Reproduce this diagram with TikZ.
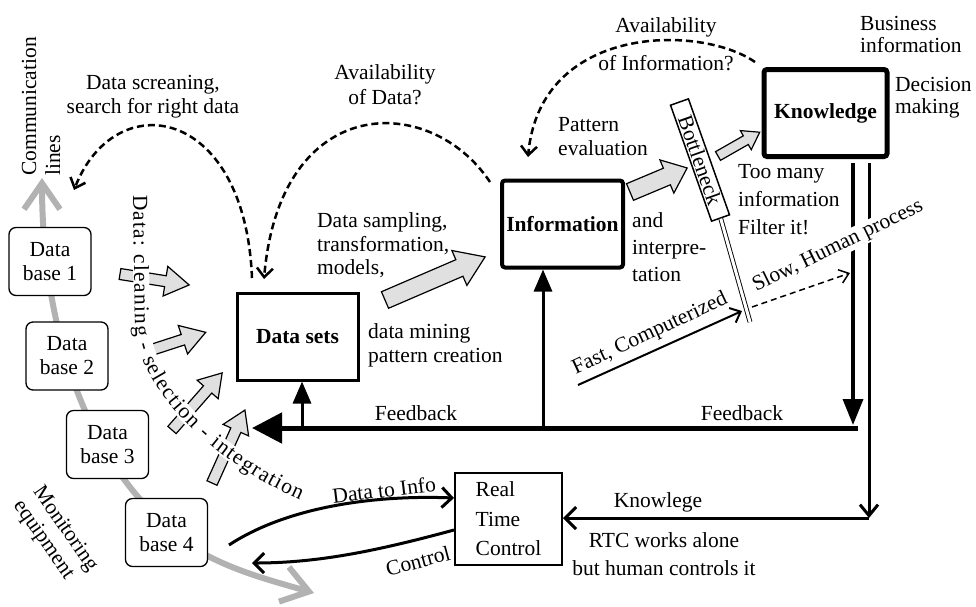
\documentclass[tikz,border=0pt]{standalone}
\usepackage{fontspec}
\setmainfont{Liberation Serif}
\usetikzlibrary{arrows.meta,decorations.text,calc}

\newcommand\fs{\fontsize{21.5}{24}\selectfont}
\newcommand\fsl[1]{\fontsize{21.5}{#1}\selectfont}
% grey block arrow: tail point, angle, length, shaft half width, head half width, head length
\newcommand\blkarrow[6]{%
  \draw[blk, shift={#1}, rotate=#2] (0,-#4) -- ({#3-#6},-#4) -- ({#3-#6},-#5) -- (#3,0)
    -- ({#3-#6},#5) -- ({#3-#6},#4) -- (0,#4) -- cycle;}

\begin{document}
\begin{tikzpicture}[x=1pt,y=-1pt,
  lbl/.style={font=\fs, inner sep=0pt, align=#1},
  lbl/.default=center,
  dbbox/.style={draw, rounded corners=7pt, line width=1.3pt, fill=white,
    minimum width=82pt, minimum height=68pt, align=center, font=\fsl{24}, inner sep=0pt},
  stage/.style={draw, line width=#1, fill=white, minimum width=121pt,
    minimum height=87pt, font=\fs\bfseries, inner sep=0pt},
  blk/.style={draw, line width=1.2pt, fill=black!12, line join=miter},
  comm/.style={draw=black!30, line width=6pt,
    {Straight Barb[length=26pt,width=36pt]}-{Straight Barb[length=26pt,width=36pt]}},
  dashedarrow/.style={line width=2.5pt, dash pattern=on 7pt off 4pt,
    -{Straight Barb[length=9pt,width=16pt]}},
]
\useasboundingbox (0,0) rectangle (976,606);

% communication line running through the data bases
\coordinate (commTop) at (42,178);
\coordinate (commEnd) at (314,593);
\draw[comm] (commTop) .. controls (42,300) and (72,430) .. (150,510)
  .. controls (190,560) and (255,576) .. (commEnd);

\node[lbl=left, rotate=90, anchor=west] (commlbl) at (41,176) {Communication\\lines};
\node[lbl=left, rotate=-55] (monlbl) at (55,536) {Monitoring\\equipment};

\node[dbbox] (db1) at (50,261.5) {Data\\base 1};
\node[dbbox] (db2) at (67,356) {Data\\base 2};
\node[dbbox] (db3) at (107.5,444.5) {Data\\base 3};
\node[dbbox] (db4) at (166.5,532.5) {Data\\base 4};

% block arrows
\blkarrow{(120,274)}{-9}{70}{5.5}{15}{24}
\blkarrow{(142,353)}{18}{67}{5.5}{15}{24}
\blkarrow{(172,430)}{48.7}{76}{5.5}{14}{22}
\blkarrow{(212,483)}{65.7}{80}{5.5}{14}{22}
\blkarrow{(385,300)}{23.3}{109}{9}{19}{28}
\blkarrow{(630,192)}{22.8}{62}{9}{18}{22}
\blkarrow{(718,156)}{29.7}{48}{5}{11}{16}

% curved label of the preparation steps
\draw[white, line width=16pt] (140,195) -- (142,325)
  .. controls (145,388) and (214,455) .. (303,494);
\path[decorate, decoration={text along path,
    text={|\fs|Data: cleaning - selection - integration},
    text align={fit to path}}]
  (133,195) -- (135,325) .. controls (138,390) and (210,460) .. (300,500);

% main stages
\node[stage=3pt] (ds) at (297.5,336.5) {Data sets};
\node[stage=4pt, rounded corners=3pt] (info) at (562.5,224) {Information};
\node[stage=5pt, rounded corners=3pt, minimum width=123pt] (kn) at (825.5,113) {Knowledge};
\node[draw, line width=2pt, minimum width=107pt, minimum height=92pt, inner sep=0pt,
  align=left, font=\fsl{29.5}] (rtc) at (508.5,519) {Real\\Time\\Control};

% bottleneck
\coordinate (bnEnd) at (750,322);
\node[draw, line width=1.5pt, fill=white, rotate=-70.5, minimum width=123pt,
  minimum height=19pt, inner sep=0pt, font=\fs] (bn) at (700,160) {Bottleneck};
\draw[double, line width=0.9pt, double distance=3pt] (bn.east) -- (bnEnd);

% labels
\node[lbl] (screen) at (153,97) {Data screaning,\\search for right data};
\node[lbl, font=\fsl{25}] (availD) at (385,85) {Availability\\of Data?};
\node[lbl, font=\fsl{38}] (availI) at (666,44) {Availability\\of Information?};
\node[lbl=left, anchor=west, font=\fsl{23.5}] (sampl) at (317,245.5) {Data sampling,\\transformation,\\models,};
\node[lbl=left, anchor=west] (mining) at (368,345) {data mining\\pattern creation};
\node[lbl=left, anchor=west] (patt) at (558,136.5) {Pattern\\evaluation};
\node[lbl=left, anchor=west, font=\fsl{27}] (interp) at (632,247.5) {and\\interpre-\\tation};
\node[lbl=left, anchor=west, font=\fsl{28}] (toomany) at (738,200) {Too many\\information\\Filter it!};
\node[lbl=left, anchor=west, font=\fsl{22}] (business) at (860,34) {Business\\information};
\node[lbl=left, anchor=west, font=\fsl{22}] (decision) at (895,98) {Decision\\making};
\node[lbl] (fb1) at (416,413) {Feedback};
\node[lbl] (fb2) at (742,413) {Feedback};
\node[lbl] (knowl) at (658,502) {Knowlege};
\node[lbl, font=\fsl{28}] (rtcnote) at (664,554) {RTC works alone\\but human controls it};
\node[lbl, rotate=7] (d2ilbl) at (384,490) {Data to Info};
\node[lbl, rotate=15] (ctllbl) at (418,561) {Control};
\node[lbl, rotate=25] (fastlbl) at (650,334) {Fast, Computerized};

% dashed feedback questions
\coordinate (d1s) at (252,278);
\coordinate (d1e) at (74,190);
\draw[dashedarrow] (d1s) .. controls (245,105) and (115,85) .. (d1e);
\coordinate (d2s) at (490,182);
\coordinate (d2e) at (264,279);
\draw[dashedarrow] (d2s) .. controls (430,92) and (280,92) .. (d2e);
\coordinate (d3s) at (755,62);
\coordinate (d3e) at (528,157);
\draw[dashedarrow] (d3s) .. controls (700,24) and (540,24) .. (d3e);

% feedback bus
\coordinate (fbR) at (858,428);
\coordinate (fbL) at (252,428);
\coordinate (fbDS) at (302,428);
\coordinate (fbIN) at (543,428);
\draw[line width=5pt, -{Triangle[length=30pt,width=30pt]}] (fbR) -- (fbL);
\draw[line width=3pt, -{Triangle[length=22pt,width=18pt]}] (fbDS) -- (fbDS |- ds.south);
\draw[line width=3pt, -{Triangle[length=22pt,width=18pt]}] (fbIN) -- (fbIN |- info.south);

% knowledge outputs
\coordinate (kL) at (853,163);
\coordinate (kLend) at (853,425);
\coordinate (kR) at (869,163);
\coordinate (kCorner) at (869,518);
\draw[line width=3.5pt, -{Triangle[length=26pt,width=20pt]}] (kL) -- (kLend);
\draw[line width=3pt, -{Straight Barb[length=11pt,width=18pt]}] (kR) -- (kCorner);
\draw[line width=3pt, -{Straight Barb[length=11pt,width=22pt]}] (kCorner) -- (kCorner -| rtc.east);

% real time control loop
\coordinate (d2iS) at (229,545);
\coordinate (ctlE) at (252,563);
\draw[line width=3pt, -{Straight Barb[length=10pt,width=20pt]}] (d2iS)
  .. controls (290,505) and (380,495) .. ($(rtc.west)+(0,-21)$);
\draw[line width=3pt, -{Straight Barb[length=10pt,width=20pt]}] ($(rtc.west)+(0,11)$)
  .. controls (380,550) and (320,563) .. (ctlE);

% fast and slow paths through the bottleneck
\coordinate (fastS) at (578,385);
\coordinate (fastE) at (742,311);
\coordinate (slowS) at (752,307);
\coordinate (slowE) at (850,273);
\draw[line width=2pt, -{Straight Barb[length=9pt,width=16pt]}] (fastS) -- (fastE);
\draw[line width=1.5pt, dash pattern=on 6pt off 4pt, -{Straight Barb[length=9pt,width=14pt]}] (slowS) -- (slowE);
\node[lbl, rotate=26, fill=white, inner sep=1pt] (slowlbl) at (838,246) {Slow, Human process};
\end{tikzpicture}
\end{document}
